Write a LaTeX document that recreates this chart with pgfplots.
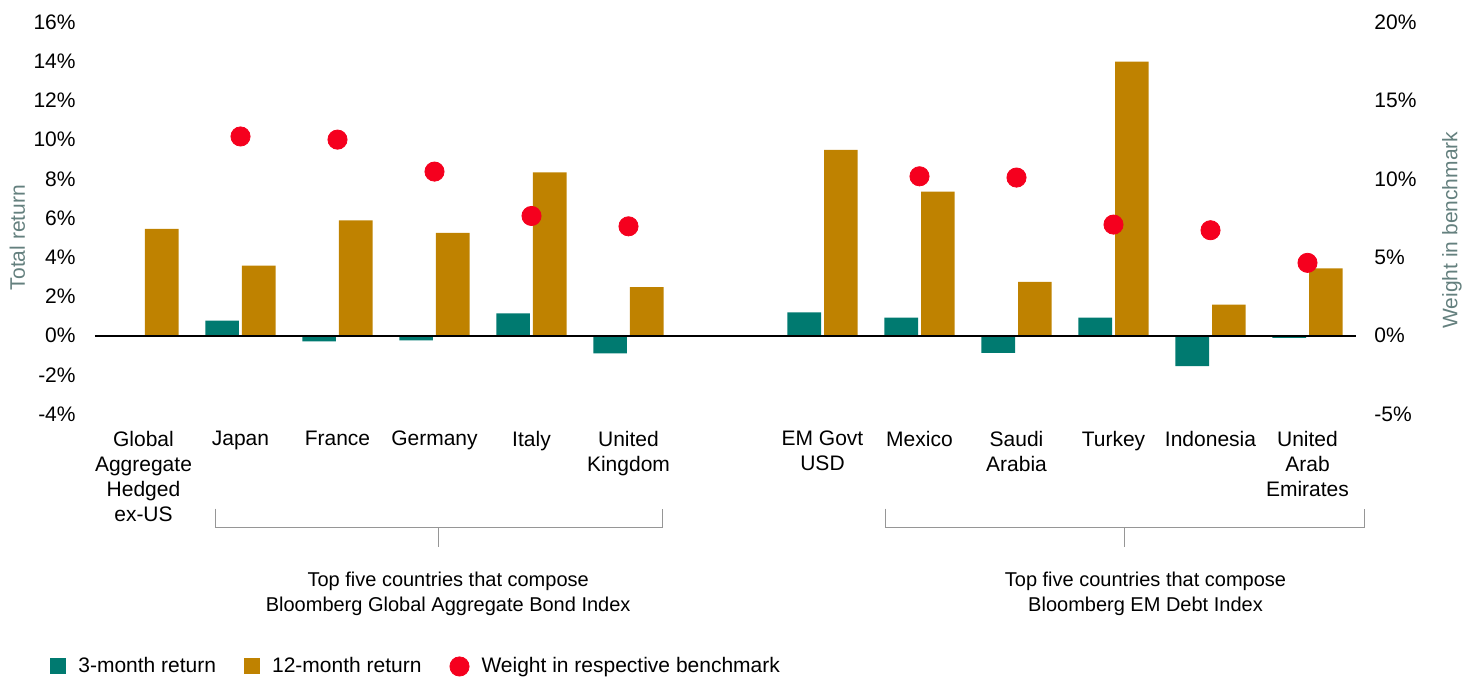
\documentclass[border=0pt]{standalone}
\usepackage{fontspec}
\setmainfont{Liberation Sans}
\usepackage{pgfplots}
\pgfplotsset{compat=1.18}
\definecolor{teal3}{RGB}{0,122,112}
\definecolor{gold12}{RGB}{191,130,0}
\definecolor{wred}{RGB}{245,0,30}
\definecolor{labgray}{RGB}{100,128,126}
\definecolor{brgray}{RGB}{150,150,150}
\begin{document}
\begin{tikzpicture}
\useasboundingbox (-47.5pt,-131.5pt) rectangle (689.5pt,207pt);
\begin{axis}[
  at={(0,0)}, anchor=south west,
  scale only axis, width=630.5pt, height=196pt,
  xmin=-0.5, xmax=12.5, ymin=-4, ymax=16,
  axis x line*=bottom, axis y line*=left,
  axis line style={draw=none}, tick style={draw=none},
  ybar=1.5pt, bar width=16.8pt,
  clip=false,
  ytick={-4,-2,...,16},
  yticklabels={-4\%,-2\%,0\%,2\%,4\%,6\%,8\%,10\%,12\%,14\%,16\%},
  yticklabel style={inner sep=0pt, xshift=-9.5pt, anchor=east, font=\fontsize{10.5}{12}\selectfont},
  xtick={0,1,2,3,4,5,7,8,9,10,11,12},
  xticklabels={{Global\\Aggregate\\Hedged\\ex-US},Japan,France,Germany,Italy,{United\\Kingdom},{EM Govt\\USD},Mexico,{Saudi\\Arabia},Turkey,Indonesia,{United\\Arab\\Emirates}},
  xticklabel style={anchor=north, inner sep=0pt, align=center, yshift=-4pt, font=\fontsize{10.5}{12.5}\selectfont},
  legend columns=3,
  legend style={at={(axis description cs:-0.0357,-0.644)}, anchor=west, draw=none, fill=none, inner sep=0pt,
    font=\fontsize{10.5}{12}\selectfont,
    /tikz/every odd column/.append style={column sep=4pt},
    /tikz/every even column/.append style={column sep=12pt}},
]
\addplot[fill=teal3, draw=none, legend image code/.code={\fill[teal3] (0pt,-4pt) rectangle (8pt,4pt);}]
  coordinates {(1,0.77) (2,-0.29) (3,-0.24) (4,1.14) (5,-0.90) (7,1.19) (8,0.92) (9,-0.88) (10,0.92) (11,-1.56) (12,-0.12)};
\addlegendentry{3-month return}
\addplot[fill=gold12, draw=none, legend image code/.code={\fill[gold12] (0pt,-4pt) rectangle (8pt,4pt);}]
  coordinates {(0,5.44) (1,3.57) (2,5.88) (3,5.24) (4,8.33) (5,2.48) (7,9.47) (8,7.35) (9,2.74) (10,13.98) (11,1.58) (12,3.43)};
\addlegendentry{12-month return}
\addlegendimage{legend image code/.code={\fill[wred] (4pt,0pt) circle (4.8pt);}}
\addlegendentry{Weight in respective benchmark}
\draw[black, line width=1pt] (axis cs:-0.5,0) -- (axis cs:12.5,0);
% brackets
\draw[brgray, line width=0.6pt] (axis cs:0.742,-8.83) |- (axis cs:5.35,-9.80) -- (axis cs:5.35,-8.83);
\draw[brgray, line width=0.6pt] (axis cs:3.041,-9.80) -- (axis cs:3.041,-10.77);
\draw[brgray, line width=0.6pt] (axis cs:7.649,-8.83) |- (axis cs:12.588,-9.80) -- (axis cs:12.588,-8.83);
\draw[brgray, line width=0.6pt] (axis cs:10.113,-9.80) -- (axis cs:10.113,-10.77);
\node[align=center, font=\fontsize{10}{12.5}\selectfont] at (axis cs:3.141,-13.19) {Top five countries that compose\\Bloomberg Global Aggregate Bond Index};
\node[align=center, font=\fontsize{10}{12.5}\selectfont] at (axis cs:10.33,-13.19) {Top five countries that compose\\Bloomberg EM Debt Index};
\node[rotate=90, text=labgray, font=\fontsize{10.5}{12}\selectfont] at (axis description cs:-0.0615,0.45) {Total return};
\node[rotate=90, text=labgray, font=\fontsize{10.5}{12}\selectfont] at (axis description cs:1.076,0.469) {Weight in benchmark};
\end{axis}
\begin{axis}[
  at={(0,0)}, anchor=south west,
  scale only axis, width=630.5pt, height=196pt,
  xmin=-0.5, xmax=12.5, ymin=-5, ymax=20,
  axis y line*=right, axis x line=none,
  axis line style={draw=none}, tick style={draw=none},
  clip=false,
  ytick={-5,0,...,20},
  yticklabels={-5\%,0\%,5\%,10\%,15\%,20\%},
  yticklabel style={inner sep=0pt, xshift=9pt, anchor=west, font=\fontsize{10.5}{12}\selectfont},
]
\addplot[only marks, mark=*, mark size=4.8pt, mark options={fill=wred, draw=wred}]
  coordinates {(1,12.7) (2,12.5) (3,10.46) (4,7.63) (5,6.97) (8,10.16) (9,10.08) (10,7.08) (11,6.72) (12,4.64)};
\end{axis}
\end{tikzpicture}
\end{document}
